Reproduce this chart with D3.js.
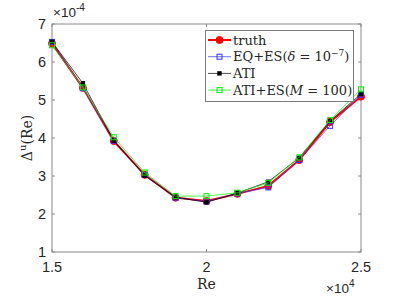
<!DOCTYPE html>
<html>
<head>
<meta charset="utf-8">
<script src="https://cdn.jsdelivr.net/npm/d3@7"></script>
<style>
body { margin:0; background:#fff; }
text { fill:#262626; }
</style>
</head>
<body>
<div id="chart"></div>
<script>
// data (values in units of 1e-4)
var reValues = [15000,16000,17000,18000,19000,20000,21000,22000,23000,24000,25000];
var truthVals = [6.49,5.32,3.92,3.03,2.43,2.34,2.53,2.74,3.42,4.42,5.09];
var eqesVals  = [6.53,5.31,3.93,3.03,2.43,2.33,2.54,2.70,3.42,4.32,5.14];
var atiVals   = [6.53,5.44,3.93,3.01,2.44,2.31,2.55,2.85,3.48,4.45,5.16];
var atiesVals = [6.44,5.33,4.02,3.09,2.47,2.47,2.56,2.82,3.49,4.47,5.28];
var xTicks = [15000,20000,25000];
var xTickLabels = ["1.5","2","2.5"];
var yTicks = [1,2,3,4,5,6,7];

var series = [
  {name:"truth", vals:truthVals, color:"#ff0000", width:2, marker:"circle"},
  {name:"eqes", vals:eqesVals, color:"#3333ff", width:0.7, marker:"square"},
  {name:"ati", vals:atiVals, color:"#000000", width:0.7, marker:"filledsquare"},
  {name:"aties", vals:atiesVals, color:"#00ee00", width:0.7, marker:"square"}
];

var W = 399, H = 299;
var L = 52, R = 361, T = 24, B = 252;

var svg = d3.select("#chart").append("svg")
  .attr("width", W).attr("height", H);

var x = d3.scaleLinear().domain([15000,25000]).range([L,R]);
var y = d3.scaleLinear().domain([1,7]).range([B,T]);

var axisCol = "#8a8a8a", tk = 3;
var sans = "Liberation Sans, Arial, sans-serif", serif = "DejaVu Serif, Liberation Serif, serif";
var gAx = svg.append("g");
gAx.append("rect").attr("x",L).attr("y",T).attr("width",R-L).attr("height",B-T)
  .style("fill","none").style("stroke",axisCol).style("stroke-width",1);

// ticks
xTicks.forEach(function(v,i){
  gAx.append("line").attr("x1",x(v)).attr("x2",x(v)).attr("y1",B).attr("y2",B-tk).style("stroke",axisCol);
  gAx.append("line").attr("x1",x(v)).attr("x2",x(v)).attr("y1",T).attr("y2",T+tk).style("stroke",axisCol);
  gAx.append("text").attr("x",x(v)).attr("y",B+20).attr("text-anchor","middle")
    .style("font-family",sans).style("font-size","14.5px")
    .text(xTickLabels[i]);
});
yTicks.forEach(function(v){
  gAx.append("line").attr("x1",L).attr("x2",L+tk).attr("y1",y(v)).attr("y2",y(v)).style("stroke",axisCol);
  gAx.append("line").attr("x1",R).attr("x2",R-tk).attr("y1",y(v)).attr("y2",y(v)).style("stroke",axisCol);
  gAx.append("text").attr("x",L-6).attr("y",y(v)+5).attr("text-anchor","end")
    .style("font-family",sans).style("font-size","14.5px")
    .text(v);
});

// exponent labels
var e1 = svg.append("text").attr("x",53).attr("y",17)
  .style("font-family",sans).style("font-size","13.5px");
e1.append("tspan").text("\u00d710");
e1.append("tspan").attr("dy",-6).style("font-size","10px").text("-4");
var e2 = svg.append("text").attr("x",326).attr("y",293)
  .style("font-family",sans).style("font-size","13.5px");
e2.append("tspan").text("\u00d710");
e2.append("tspan").attr("dy",-6).style("font-size","10px").text("4");

// axis titles
svg.append("text").attr("x",x(20000)).attr("y",289).attr("text-anchor","middle")
  .style("font-family",serif).style("font-size","14px").text("Re");
var yl = svg.append("text").attr("transform","translate(32,"+((T+B)/2)+") rotate(-90)")
  .attr("text-anchor","middle")
  .style("font-family",serif).style("font-size","14px");
yl.append("tspan").text("\u0394");
yl.append("tspan").attr("dy",-6).style("font-size","10px").text("u");
yl.append("tspan").attr("dy",6).text("(Re)");

// lines
var line = d3.line().x(function(d,i){ return x(reValues[i]); }).y(function(d){ return y(d); });

function drawMarker(g, cx, cy, s){
  if(s.marker=="circle"){
    g.append("circle").attr("cx",cx).attr("cy",cy).attr("r",3.5)
      .style("fill",s.color).style("stroke",s.color);
  } else if(s.marker=="filledsquare"){
    g.append("rect").attr("x",cx-2.2).attr("y",cy-2.2).attr("width",4.4).attr("height",4.4)
      .style("fill",s.color);
  } else {
    g.append("rect").attr("x",cx-2.5).attr("y",cy-2.5).attr("width",5).attr("height",5)
      .style("fill","none").style("stroke",s.color).style("stroke-width",1);
  }
}

series.forEach(function(s){
  var g = svg.append("g");
  g.append("path").attr("d",line(s.vals))
    .style("fill","none").style("stroke",s.color).style("stroke-width",s.width);
  s.vals.forEach(function(v,i){ drawMarker(g, x(reValues[i]), y(v), s); });
});

// legend
var lg = svg.append("g");
lg.append("rect").attr("x",205.5).attr("y",30.5).attr("width",148).attr("height",71)
  .style("fill","#fff").style("stroke","#7a7a7a").style("stroke-width",1);
var legRows = [
  {s:series[0], label:"truth"},
  {s:series[1], label:"EQ+ES(", math:"\u03b4", mid:" = 10", sup:"\u22127", tail:")"},
  {s:series[2], label:"ATI"},
  {s:series[3], label:"ATI+ES(", math:"M", mid:" = 100", tail:")"}
];
legRows.forEach(function(r,i){
  var yy = 40 + i*16.7;
  lg.append("line").attr("x1",208).attr("x2",231).attr("y1",yy).attr("y2",yy)
    .style("stroke",r.s.color).style("stroke-width",r.s.width);
  drawMarker(lg, 219.5, yy, r.s);
  var t = lg.append("text").attr("x",233).attr("y",yy+4.5)
    .style("font-family",serif).style("font-size","13px");
  t.append("tspan").text(r.label);
  if(r.math){
    t.append("tspan").style("font-style","italic").text(r.math);
    t.append("tspan").text(r.mid);
    if(r.sup){
      t.append("tspan").attr("dy",-5).style("font-size","9px").text(r.sup);
      t.append("tspan").attr("dy",5).text(r.tail);
    } else {
      t.append("tspan").text(r.tail);
    }
  }
});
</script>
</body>
</html>
